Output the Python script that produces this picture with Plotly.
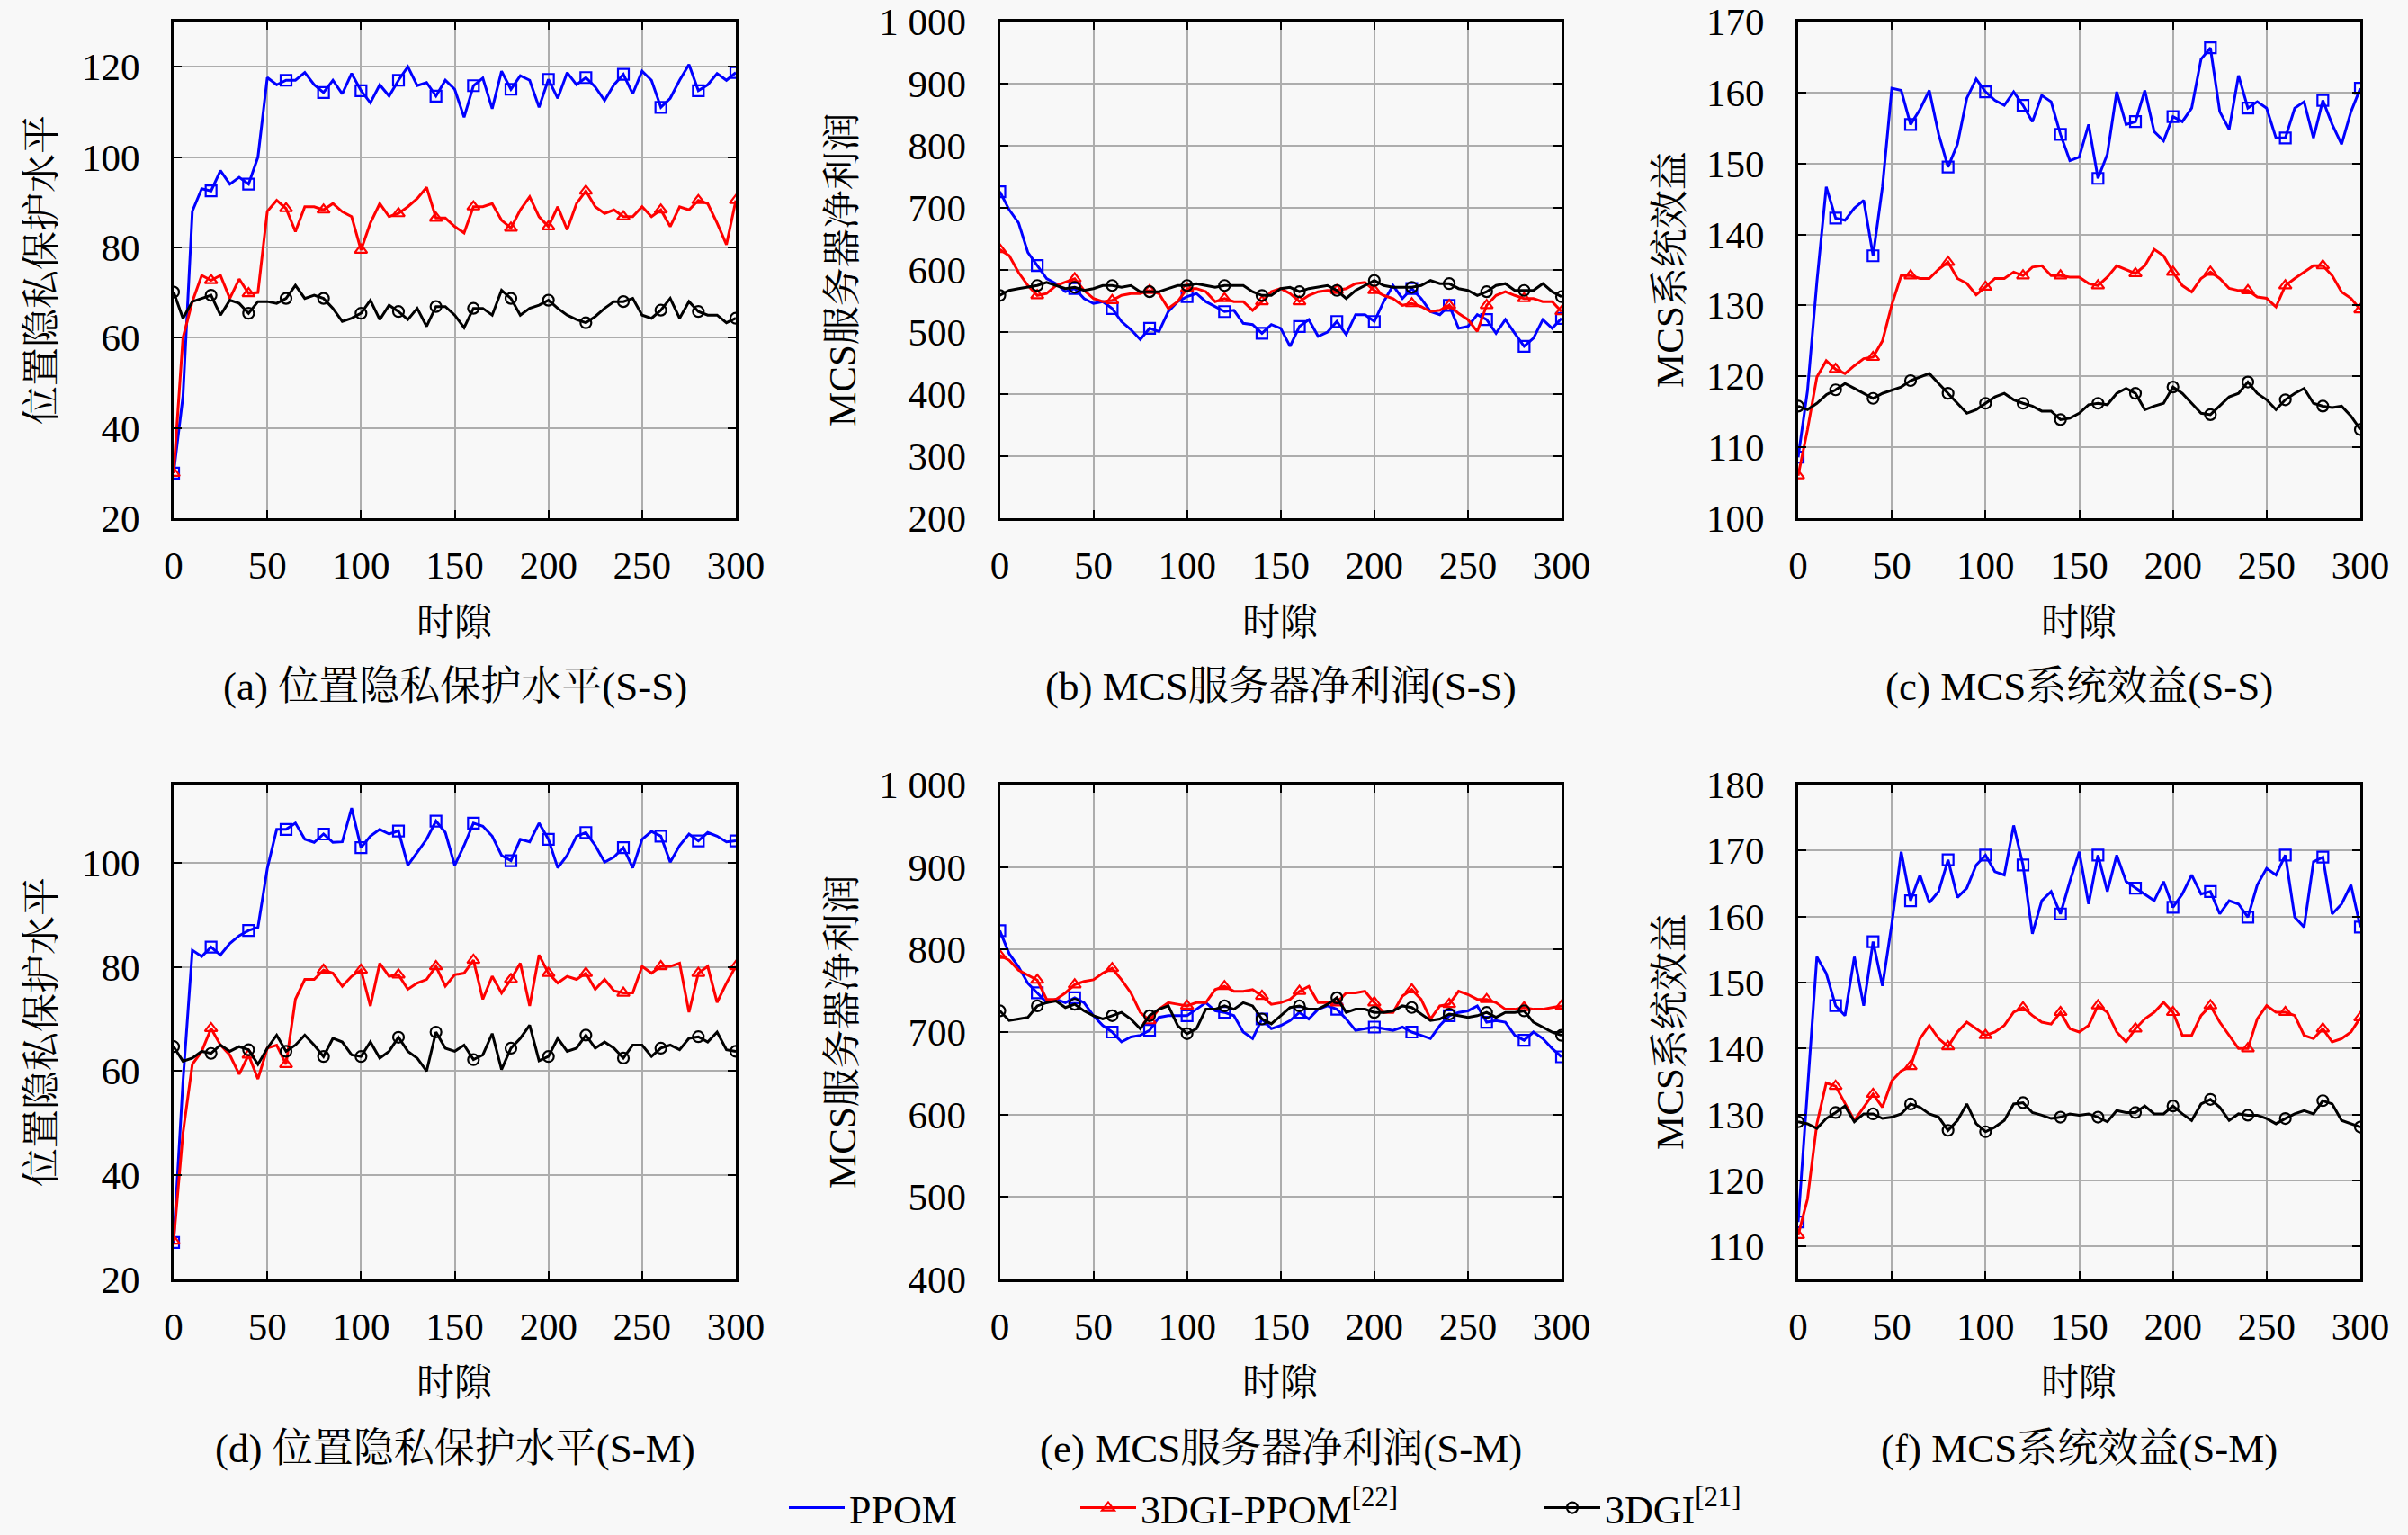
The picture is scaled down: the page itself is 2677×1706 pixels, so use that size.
import plotly.graph_objects as go

# ---------------- data ----------------
slots = list(range(0, 301, 5))          # time slots (every 5th slot)
x_ticks = [0, 50, 100, 150, 200, 250, 300]

series_names = ["PPOM", "3DGI-PPOM<sup>[22]</sup>", "3DGI<sup>[21]</sup>"]

# (a) location privacy protection level, S-S
a_ppom = [30, 47, 88, 93, 92.5, 97, 94, 95.5, 94, 100, 117.6, 116, 117, 117, 118.7, 116, 114.3, 117, 114, 118.5,
          114.7, 112, 116, 113.5, 117, 120, 115.8, 116.5, 113.5, 117, 115, 108.8, 115.8, 117.5, 110.7, 119, 115, 118,
          117, 111, 117.2, 113, 118.7, 116, 117.6, 115.5, 112.5, 116, 118.3, 114, 119, 117, 111, 113, 117, 120.5,
          114.7, 116, 118.5, 117, 118.7]
a_3dgippom = [30, 60, 68, 73.8, 72.7, 73.8, 68.7, 73, 69.8, 70, 88, 90.4, 88.6, 83.5, 89, 89, 88.3, 89.7, 87.9, 86.8,
              79.4, 85.4, 89.7, 86.8, 87.5, 89, 90.8, 93.3, 86.5, 86.5, 84.6, 83.2, 89, 89, 89.7, 86, 84.3, 88.3, 91.2,
              86.8, 84.6, 89, 83.9, 89.7, 92.5, 89, 87.5, 88.3, 86.8, 86.8, 89, 86.8, 88.3, 84.6, 89, 88.3, 90.4, 89.7,
              85.4, 80.6, 90.4]
a_3dgi = [70.1, 64.3, 68, 68.7, 69.4, 65, 68.3, 67.6, 65.4, 68, 68, 67.6, 68.7, 71.6, 68.7, 69.4, 68.7, 66.5, 63.6, 64.3,
          65.4, 68.3, 64, 67.2, 65.8, 64, 66.5, 62.5, 66.9, 66.9, 65, 62.2, 66.5, 66.5, 65, 70.5, 68.7, 65, 66.5, 67.2,
          68.3, 66.5, 65, 64, 63.3, 64.7, 66.5, 68, 68, 68.7, 65, 64.3, 66.1, 68.7, 64.3, 68, 65.8, 65, 65, 63.3, 64.3]

# (b) MCS server net profit, S-S
b_ppom = [726, 697, 676, 628, 607, 586, 578, 565, 570, 554, 546, 549, 538, 517, 504, 488, 506, 501, 533, 549, 557, 562,
          549, 541, 533, 535, 514, 512, 498, 512, 506, 477, 509, 520, 493, 500, 517, 496, 528, 528, 517, 549, 575, 554,
          570, 554, 533, 528, 543, 506, 509, 528, 520, 498, 520, 498, 477, 490, 520, 506, 522]
b_3dgippom = [633, 623, 596, 575, 559, 562, 575, 580, 586, 567, 554, 549, 551, 559, 562, 562, 567, 562, 538, 549, 570,
              570, 565, 549, 554, 549, 549, 535, 549, 565, 570, 562, 549, 559, 565, 567, 567, 570, 578, 580, 567, 559,
              554, 543, 546, 541, 533, 535, 543, 530, 520, 501, 543, 559, 565, 559, 554, 554, 549, 549, 533]
b_3dgi = [559, 567, 570, 572, 575, 580, 575, 570, 572, 567, 570, 575, 575, 572, 575, 565, 565, 565, 570, 575, 575, 578,
          575, 572, 575, 575, 575, 565, 559, 559, 570, 572, 565, 570, 572, 575, 567, 554, 567, 575, 583, 575, 572, 572,
          572, 575, 583, 578, 578, 570, 567, 559, 565, 575, 578, 567, 567, 567, 578, 565, 557]

# (c) MCS system utility, S-S
c_ppom = [108.6, 118, 133.3, 146.7, 142.3, 142, 143.7, 144.8, 137, 146.7, 160.6, 160.3, 155.5, 157.6, 160.3, 154.1,
          149.5, 152.7, 159.2, 161.9, 160.1, 158.9, 158.2, 160.1, 158.2, 155.9, 159.6, 158.7, 154.1, 150.4, 150.9,
          155.5, 147.9, 151.3, 160.1, 155.5, 155.9, 160.3, 154.5, 153.2, 156.6, 155.9, 157.8, 164.7, 166.3, 157.3,
          154.8, 162.4, 157.8, 158.7, 157.8, 153.6, 153.6, 157.8, 158.7, 153.6, 158.9, 155.5, 152.7, 157.3, 160.6]
c_3dgippom = [106, 112.5, 119.9, 122.2, 121, 120.4, 121.5, 122.5, 122.7, 125, 130.1, 134.2, 134.2, 133.8, 133.8, 135.1,
              136.1, 133.8, 133.1, 131.5, 132.6, 133.8, 133.8, 134.7, 134.2, 135.4, 135.6, 134.2, 134.2, 134, 134,
              133.1, 132.8, 134, 135.6, 135.1, 134.5, 135.6, 137.9, 137, 134.7, 132.8, 131.9, 133.8, 134.7, 133.8,
              132.4, 132.1, 132.1, 131.2, 131, 129.8, 132.8, 133.8, 134.7, 135.6, 135.6, 134.2, 131.9, 131, 129.4]
c_3dgi = [115.8, 115.3, 116.2, 117.4, 118.1, 119, 118.3, 117.6, 116.9, 117.6, 118.1, 118.5, 119.4, 119.9, 120.4, 119,
          117.6, 116.2, 114.8, 115.3, 116.2, 117.1, 117.6, 116.7, 116.2, 115.8, 115.1, 115.1, 113.9, 114.1, 114.8, 116,
          116.2, 116, 117.6, 118.3, 117.6, 115.3, 115.8, 116.2, 118.5, 117.6, 116.2, 114.8, 114.6, 115.8, 117.1,
          117.6, 119.2, 117.6, 116.7, 115.3, 116.7, 117.6, 118.3, 116.2, 115.8, 115.6, 115.8, 114.4, 112.5]

# (d) location privacy protection level, S-M
d_ppom = [27.1, 58, 83.2, 82, 83.8, 82.3, 84.5, 86, 87, 87.6, 98.9, 106.4, 106.4, 107.6, 104.5, 103.9, 105.5, 103.9,
          104, 110.5, 102.9, 105.1, 106.4, 105.5, 106.1, 99.5, 102, 104.5, 108, 105.8, 99.5, 103.3, 107.6, 107, 105.1,
          101.4, 100.4, 104.5, 104, 107.6, 104.5, 99, 101.4, 105.1, 105.8, 103.3, 100.1, 101.1, 102.9, 99, 104.5, 106,
          105.1, 100.1, 103.3, 105.5, 104.2, 105.8, 105.1, 104, 104.2]
d_3dgippom = [27.4, 48.1, 61.3, 63.8, 68.2, 65, 63.1, 59.4, 63.1, 58.5, 64.4, 65, 61.3, 73.8, 77.6, 77.6, 79.4, 78.8,
              76.3, 78.2, 79.4, 72.5, 80.7, 78.2, 78.5, 75.7, 76.9, 77.6, 80.1, 76.3, 78.5, 78.8, 81.3, 73.8, 78.2, 75,
              77.6, 80.7, 72.5, 82.3, 78.8, 76.9, 78.2, 77.6, 78.8, 75.7, 77.6, 75.4, 75, 75, 80.1, 78.8, 80.1, 80.1,
              80.7, 71.3, 78.8, 80.1, 73.2, 76.9, 80.1]
d_3dgi = [64.7, 61.9, 62.5, 63.8, 63.4, 65, 63.8, 64.7, 64.1, 61.3, 64.4, 66.9, 63.8, 65, 66.9, 65, 62.8, 66.3, 65.6,
          63.1, 62.8, 65.6, 62.5, 63.8, 66.5, 63.8, 62.5, 60, 67.5, 64.4, 63.8, 65, 62.2, 63.1, 67.2, 60.3, 64.4, 66.3,
          68.8, 62, 62.8, 66.3, 63.8, 64.4, 66.9, 64.4, 65.6, 64.4, 62.5, 65, 65, 62.8, 64.4, 65, 64.1, 66.3, 66.6,
          65.6, 67.5, 64.1, 63.8]

# (e) MCS server net profit, S-M
e_ppom = [822.8, 795, 779, 759, 747.5, 735.6, 739.6, 735.6, 741.6, 735.6, 719.8, 707.9, 700, 688, 694, 696, 702, 717.8,
          719.8, 719.8, 719.8, 727.7, 735.6, 725.7, 723.8, 719.8, 700, 692, 715.8, 704, 707.9, 713.9, 723.8, 715.8,
          727.7, 731.7, 727.7, 715.8, 702, 704, 706, 704, 702, 706, 700, 696, 692, 707.9, 719.8, 723.8, 725.7, 731.7,
          711.9, 713.9, 711.9, 696, 690, 700, 692, 680, 670]
e_3dgippom = [793, 787, 775, 769, 763, 739.6, 739.6, 747.5, 757.4, 761.4, 763.4, 771.3, 777.2, 763.4, 747.5, 723.8,
              713.9, 727.7, 735.6, 733.7, 731.7, 735.6, 735.6, 751.5, 755.4, 749.5, 749.5, 751.5, 743.6, 733.7, 735.6,
              739.6, 749.5, 755.4, 735.6, 735.6, 735.6, 747.5, 747.5, 749.5, 735.6, 723.8, 723.8, 743.6, 751.5, 739.6,
              715.8, 731.7, 733.7, 749.5, 745.5, 739.6, 739.6, 735.6, 727.7, 727.7, 729.7, 727.7, 727.7, 729.7, 731.7]
e_3dgi = [725.7, 713.9, 715.8, 717.8, 731.7, 735.6, 737.6, 729.7, 733.7, 725.7, 719.8, 715.8, 719.8, 723.8, 715.8, 704,
          719.8, 727.7, 731.7, 707.9, 698, 704, 727.7, 727.7, 731.7, 727.7, 735.6, 731.7, 715.8, 709.9, 719.8, 729.7,
          731.7, 727.7, 727.7, 733.7, 741.6, 723.8, 727.7, 727.7, 723.8, 723.8, 725.7, 731.7, 729.7, 721.8, 713.9,
          715.8, 721.8, 719.8, 717.8, 719.8, 723.8, 717.8, 723.8, 723.8, 725.7, 711.9, 706, 700, 696]

# (f) MCS system utility, S-M
f_ppom = [113.7, 134.1, 153.9, 151.4, 146.5, 145, 153.9, 146.5, 156.2, 149.5, 158.9, 169.8, 162.4, 166.3, 162.1, 163.8,
          168.6, 162.9, 164.3, 167.8, 169.3, 166.8, 166.3, 173.8, 167.8, 157.4, 162.4, 163.8, 160.4, 165.3, 169.8,
          161.9, 169.3, 163.8, 169.3, 165.3, 164.3, 163.4, 162.4, 165.3, 161.4, 163.4, 166.3, 163.4, 163.8, 160.4,
          162.4, 161.9, 159.9, 164.8, 167.3, 166.3, 169.3, 159.9, 158.4, 168.3, 169, 160.4, 161.9, 164.8, 158.4]
f_3dgippom = [111.7, 117.2, 128.6, 134.8, 134.3, 131.6, 129.1, 131.1, 133.1, 131.1, 135.1, 136.6, 137.3, 141.5, 143.5,
              141.5, 140.3, 142.5, 144, 143, 142, 142.5, 143.5, 145.5, 146.2, 145, 144, 143.7, 145.5, 143, 142.5, 143.5,
              146.5, 145.5, 142.5, 141, 143, 144.5, 145.5, 147, 145.5, 142, 142, 145, 146.5, 144, 142, 140, 140, 144.5,
              146.5, 145.5, 145.5, 145, 142, 141.5, 143, 141, 141.5, 142.5, 144.7]
f_3dgi = [128.9, 128.6, 127.9, 129.4, 130.3, 131.3, 128.9, 130.1, 130.1, 129.4, 129.6, 130.1, 131.6, 131.1, 130.1,
          129.6, 127.6, 129.1, 131.6, 128.6, 127.4, 128.1, 129.1, 131.6, 131.8, 130.3, 129.9, 129.4, 129.6, 130.1,
          129.9, 130.1, 129.6, 128.9, 130.6, 130.3, 130.3, 131.3, 130.1, 130.1, 131.3, 130.1, 129.1, 131.6, 132.3,
          131.1, 129.1, 130.1, 129.9, 129.9, 129.4, 128.6, 129.4, 130.1, 130.6, 130.1, 132.1, 131.6, 129.1, 128.6, 128.1]

# axis ticks
yt_a = [20, 40, 60, 80, 100, 120]
yt_b = [200, 300, 400, 500, 600, 700, 800, 900, 1000]
yl_b = ["200", "300", "400", "500", "600", "700", "800", "900", "1 000"]
yt_c = [100, 110, 120, 130, 140, 150, 160, 170]
yt_d = [20, 40, 60, 80, 100]
yt_e = [400, 500, 600, 700, 800, 900, 1000]
yl_e = ["400", "500", "600", "700", "800", "900", "1 000"]
yt_f = [110, 120, 130, 140, 150, 160, 170, 180]

y_titles = ["位置隐私保护水平", "MCS服务器净利润", "MCS系统效益",
            "位置隐私保护水平", "MCS服务器净利润", "MCS系统效益"]
captions = ["(a) 位置隐私保护水平(S-S)", "(b) MCS服务器净利润(S-S)", "(c) MCS系统效益(S-S)",
            "(d) 位置隐私保护水平(S-M)", "(e) MCS服务器净利润(S-M)", "(f) MCS系统效益(S-M)"]
x_title = "时隙"

# ---------------- styling / layout ----------------
W, H = 2677, 1706
FONT = "Liberation Serif, Noto Serif CJK SC, Noto Sans CJK SC, serif"
BG = "#f8f8f8"
colors = ["#0000ff", "#ff0000", "#000000"]
symbols = ["square-open", "triangle-up-open", "circle-open"]

panels = [
    dict(data=(a_ppom, a_3dgippom, a_3dgi), yr=[20, 130], yt=yt_a, yl=None),
    dict(data=(b_ppom, b_3dgippom, b_3dgi), yr=[200, 1000], yt=yt_b, yl=yl_b),
    dict(data=(c_ppom, c_3dgippom, c_3dgi), yr=[100, 170], yt=yt_c, yl=None),
    dict(data=(d_ppom, d_3dgippom, d_3dgi), yr=[20, 115], yt=yt_d, yl=None),
    dict(data=(e_ppom, e_3dgippom, e_3dgi), yr=[400, 1000], yt=yt_e, yl=yl_e),
    dict(data=(f_ppom, f_3dgippom, f_3dgi), yr=[105, 180], yt=yt_f, yl=None),
]

x_doms = [(193 / W, 818 / W), (1111.5 / W, 1736 / W), (1999 / W, 2624 / W)]
y_doms = [(1 - 576 / H, 1 - 24 / H), (1 - 1422 / H, 1 - 872 / H)]
ytitle_x = [46 / W, 936 / W, 1856 / W]

fig = go.Figure()
layout = dict(
    width=W, height=H,
    paper_bgcolor=BG, plot_bgcolor=BG,
    margin=dict(l=0, r=0, t=0, b=0, autoexpand=False),
    font=dict(family=FONT, size=42, color="black"),
    showlegend=True,
)
annotations = []

mark_idx = [i for i, s in enumerate(slots) if s % 20 == 0]

for p, pan in enumerate(panels):
    row, col = divmod(p, 3)
    n = p + 1
    xa = "x" if n == 1 else f"x{n}"
    ya = "y" if n == 1 else f"y{n}"
    for k, vals in enumerate(pan["data"]):
        fig.add_trace(go.Scatter(
            x=slots, y=vals, mode="lines", xaxis=xa, yaxis=ya,
            line=dict(color=colors[k], width=3), showlegend=False, hoverinfo="skip"))
        fig.add_trace(go.Scatter(
            x=[slots[i] for i in mark_idx], y=[vals[i] for i in mark_idx], mode="markers",
            xaxis=xa, yaxis=ya, showlegend=False, hoverinfo="skip",
            marker=dict(symbol=symbols[k], size=12, color=colors[k], line=dict(width=2.2, color=colors[k]))))
    axis_common = dict(
        showgrid=True, gridcolor="#adadad", gridwidth=1.8, zeroline=False,
        showline=True, linecolor="black", linewidth=3, mirror="ticks",
        ticks="inside", ticklen=9, tickwidth=2, tickcolor="black",
        tickfont=dict(family=FONT, size=43, color="black"),
    )
    layout["xaxis" if n == 1 else f"xaxis{n}"] = dict(
        axis_common, domain=list(x_doms[col]), range=[0, 300], tickvals=x_ticks,
        anchor=ya, ticklabelstandoff=12)
    ydict = dict(axis_common, domain=list(y_doms[row]), range=pan["yr"], tickvals=pan["yt"],
                 anchor=xa, ticklabelstandoff=26)
    if pan["yl"] is not None:
        ydict["ticktext"] = pan["yl"]
    layout["yaxis" if n == 1 else f"yaxis{n}"] = ydict

    xc = (x_doms[col][0] + x_doms[col][1]) / 2
    yc = (y_doms[row][0] + y_doms[row][1]) / 2
    xt_y = [1 - 692 / H, 1 - 1537 / H][row]
    cap_y = [1 - 763 / H, 1 - 1610 / H][row]
    annotations.append(dict(text=x_title, x=xc, y=xt_y, xref="paper", yref="paper", showarrow=False,
                            xanchor="center", yanchor="middle", font=dict(family=FONT, size=42)))
    annotations.append(dict(text=captions[p], x=xc, y=cap_y, xref="paper", yref="paper", showarrow=False,
                            xanchor="center", yanchor="middle", font=dict(family=FONT, size=45)))
    annotations.append(dict(text=y_titles[p], x=ytitle_x[col], y=yc, xref="paper", yref="paper",
                            showarrow=False, textangle=-90, xanchor="center", yanchor="middle",
                            font=dict(family=FONT, size=43)))

# legend entries (samples only)
legend_keys = ["legend", "legend2", "legend3"]
legend_x = [872 / W, 1196 / W, 1712 / W]
for k in range(3):
    fig.add_trace(go.Scatter(
        x=[None], y=[None], mode="lines" if k == 0 else "lines+markers", name=series_names[k],
        legend=legend_keys[k], line=dict(color=colors[k], width=3),
        marker=dict(symbol=symbols[k], size=12, color=colors[k], line=dict(width=2.2, color=colors[k]))))
    layout[legend_keys[k]] = dict(x=legend_x[k], y=1 - 1676 / H, xanchor="left", yanchor="middle",
                                  orientation="h", bgcolor="rgba(0,0,0,0)", itemwidth=62,
                                  font=dict(family=FONT, size=44, color="black"))

layout["annotations"] = annotations
fig.update_layout(**layout)
fig.write_html("out.html", config={"displayModeBar": False},
               post_script="document.body.style.margin='0px';document.body.style.overflow='hidden';")
